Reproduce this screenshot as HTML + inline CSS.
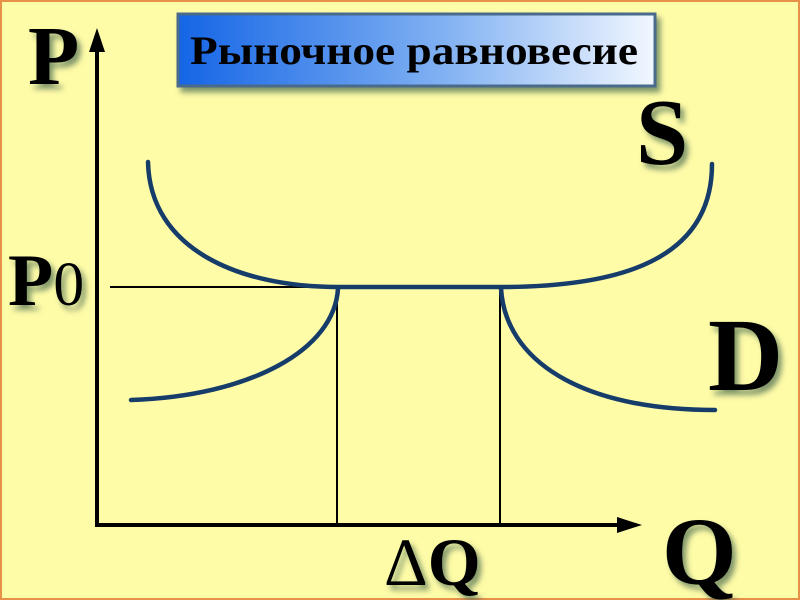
<!DOCTYPE html>
<html><head><meta charset="utf-8"><style>
body{margin:0;width:800px;height:600px;overflow:hidden;background:#fffca8}
svg{display:block}
</style></head><body>
<svg width="800" height="600" viewBox="0 0 800 600" xmlns="http://www.w3.org/2000/svg">
<defs>
<linearGradient id="g" x1="0" x2="1" y1="0" y2="0">
<stop offset="0" stop-color="#1565e6"/><stop offset="0.55" stop-color="#7fb0f2"/><stop offset="1" stop-color="#f2f7ff"/>
</linearGradient>
<filter id="sh" x="-20%" y="-20%" width="150%" height="150%"><feDropShadow dx="4" dy="5" stdDeviation="3" flood-color="#4a6a50" flood-opacity="0.7"/></filter>
</defs>
<rect x="1" y="1" width="798" height="598" fill="#fffca8" stroke="#e8904a" stroke-width="2"/>
<rect x="178" y="14" width="477" height="72" fill="url(#g)" stroke="#4a6a8a" stroke-width="3" filter="url(#sh)"/>
<text x="190" y="64" font-family="Liberation Serif, serif" font-weight="bold" font-size="40" textLength="448" lengthAdjust="spacingAndGlyphs" fill="#000">Рыночное равновесие</text>
<g font-family="Liberation Serif, serif" font-weight="bold" fill="#000" filter="url(#sh)">
<text x="28" y="84" font-size="84">P</text>
<text x="636" y="164" font-size="94">S</text>
<text x="8" y="305" font-size="74">P<tspan font-weight="normal" font-size="62">0</tspan></text>
<text x="708" y="390" font-size="104">D</text>
<text x="662" y="584" font-size="96">Q</text>
<text x="384" y="585" font-size="68"><tspan font-weight="normal">Δ</tspan>Q</text>
</g>
<g stroke="#000" fill="none">
<line x1="97" y1="45" x2="97" y2="526" stroke-width="4"/>
<line x1="95" y1="525" x2="630" y2="525" stroke-width="4"/>
<line x1="110" y1="287" x2="338" y2="287" stroke-width="2"/>
<line x1="337" y1="287" x2="337" y2="525" stroke-width="2"/>
<line x1="500" y1="287" x2="500" y2="525" stroke-width="2"/>
</g>
<polygon points="97,28 89,52 105,52" fill="#000"/>
<polygon points="642,525 617,517 617,533" fill="#000"/>
<g stroke="#163c6a" stroke-width="4.5" fill="none" stroke-linecap="round">
<path d="M148,162 C150,250 240,287 338,287 L500,287 C620,287 712,260 712,164"/>
<path d="M131,400 C250,396 335,350 338,288"/>
<path d="M501,288 C505,360 580,410 715,410"/>
</g>
</svg>
</body></html>
